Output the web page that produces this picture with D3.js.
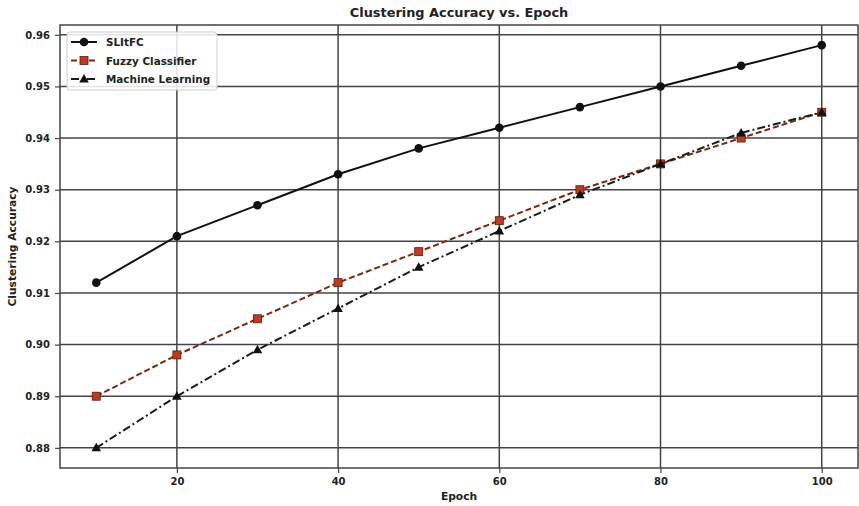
<!DOCTYPE html>
<html><head><meta charset="utf-8">
<script src="https://cdn.jsdelivr.net/npm/d3@7"></script>
<style>body{margin:0;background:#fff}svg{display:block}text{font-family:"DejaVu Sans",sans-serif;fill:#222}</style>
</head><body><svg id="c" width="859" height="506"></svg>
<script>
const epochs = [10,20,30,40,50,60,70,80,90,100];
const slitfc = [0.912,0.921,0.927,0.933,0.938,0.942,0.946,0.950,0.954,0.958];
const fuzzy = [0.890,0.898,0.905,0.912,0.918,0.924,0.930,0.935,0.940,0.945];
const ml = [0.880,0.890,0.899,0.907,0.915,0.922,0.929,0.935,0.941,0.945];
const xTicks = [20,40,60,80,100];
const yTicks = [0.88,0.89,0.90,0.91,0.92,0.93,0.94,0.95,0.96];
const seriesNames = ["SLItFC","Fuzzy Classifier","Machine Learning"];

const svg = d3.select("#c");
const L=60,R=858,T=25,B=468;
const x = d3.scaleLinear().domain([5.5,104.5]).range([L,R]);
const y = d3.scaleLinear().domain([0.8761,0.9619]).range([B,T]);
const grid="#444";

// grid
svg.append("g").selectAll("line").data(xTicks).join("line")
  .attr("x1",d=>x(d)).attr("x2",d=>x(d)).attr("y1",T).attr("y2",B)
  .attr("stroke",grid).attr("stroke-width",1.5);
svg.append("g").selectAll("line").data(yTicks).join("line")
  .attr("x1",L).attr("x2",R).attr("y1",d=>y(d)).attr("y2",d=>y(d))
  .attr("stroke",grid).attr("stroke-width",1.5);

// axes
const xa = svg.append("g").attr("transform",`translate(0,${B})`)
  .call(d3.axisBottom(x).tickValues(xTicks).tickSize(5).tickPadding(5).tickFormat(d3.format("d")));
const ya = svg.append("g").attr("transform",`translate(${L},0)`)
  .call(d3.axisLeft(y).tickValues(yTicks).tickSize(5).tickPadding(5).tickFormat(d3.format(".2f")));
[xa,ya].forEach(a=>{
  a.select(".domain").remove();
  a.selectAll(".tick line").attr("stroke",grid).attr("stroke-width",1.2);
  a.selectAll(".tick text").attr("font-size",10).attr("font-family","DejaVu Sans").attr("fill","#222").attr("font-weight","bold");
});
// frame
svg.append("rect").attr("x",L).attr("y",T).attr("width",R-L).attr("height",B-T)
  .attr("fill","none").attr("stroke",grid).attr("stroke-width",1.5);

const styles = [
  {data:slitfc, stroke:"#111", dash:null, marker:"circle", fill:"#111", edge:"#111"},
  {data:fuzzy, stroke:"#7a2812", dash:"6,3", marker:"square", fill:"#c23a1e", edge:"#5a1a0a"},
  {data:ml, stroke:"#142014", dash:"8,3,2,3", marker:"triangle", fill:"#111", edge:"#111"}
];
const line = d3.line().x((d,i)=>x(epochs[i])).y(d=>y(d));
function marker(g,type,cx,cy,s){
  if(type==="circle") g.append("circle").attr("cx",cx).attr("cy",cy).attr("r",4.3).attr("fill",s.fill);
  else if(type==="square") g.append("rect").attr("x",cx-4).attr("y",cy-4).attr("width",8).attr("height",8).attr("fill",s.fill).attr("stroke",s.edge).attr("stroke-width",0.8);
  else g.append("path").attr("d",`M${cx},${cy-5}L${cx+4.8},${cy+3.5}L${cx-4.8},${cy+3.5}Z`).attr("fill",s.fill);
}
styles.forEach(s=>{
  svg.append("path").datum(s.data).attr("d",line).attr("fill","none")
    .attr("stroke",s.stroke).attr("stroke-width",2).attr("stroke-dasharray",s.dash);
  const g=svg.append("g");
  s.data.forEach((v,i)=>marker(g,s.marker,x(epochs[i]),y(v),s));
});

// legend
const lg = svg.append("g");
lg.append("rect").attr("x",67).attr("y",32).attr("width",150).attr("height",58).attr("rx",3)
  .attr("fill","#fff").attr("fill-opacity",0.85).attr("stroke","#ccc").attr("stroke-width",1);
seriesNames.forEach((n,i)=>{
  const yy=42+i*18.5, s=styles[i];
  lg.append("line").attr("x1",71).attr("x2",97).attr("y1",yy).attr("y2",yy)
    .attr("stroke",s.stroke).attr("stroke-width",2).attr("stroke-dasharray",s.dash);
  marker(lg,s.marker,84,yy,s);
  lg.append("text").attr("x",106).attr("y",yy+4).attr("font-size",10.4).attr("font-weight","bold").text(n);
});

// titles
svg.append("text").attr("x",(L+R)/2).attr("y",17).attr("text-anchor","middle").attr("font-size",12.9).attr("font-weight","bold").text("Clustering Accuracy vs. Epoch");
svg.append("text").attr("x",(L+R)/2).attr("y",500).attr("text-anchor","middle").attr("font-size",10.7).attr("font-weight","bold").text("Epoch");
svg.append("text").attr("transform",`translate(16,${(T+B)/2}) rotate(-90)`).attr("text-anchor","middle").attr("font-size",10.7).attr("font-weight","bold").text("Clustering Accuracy");
</script></body></html>
